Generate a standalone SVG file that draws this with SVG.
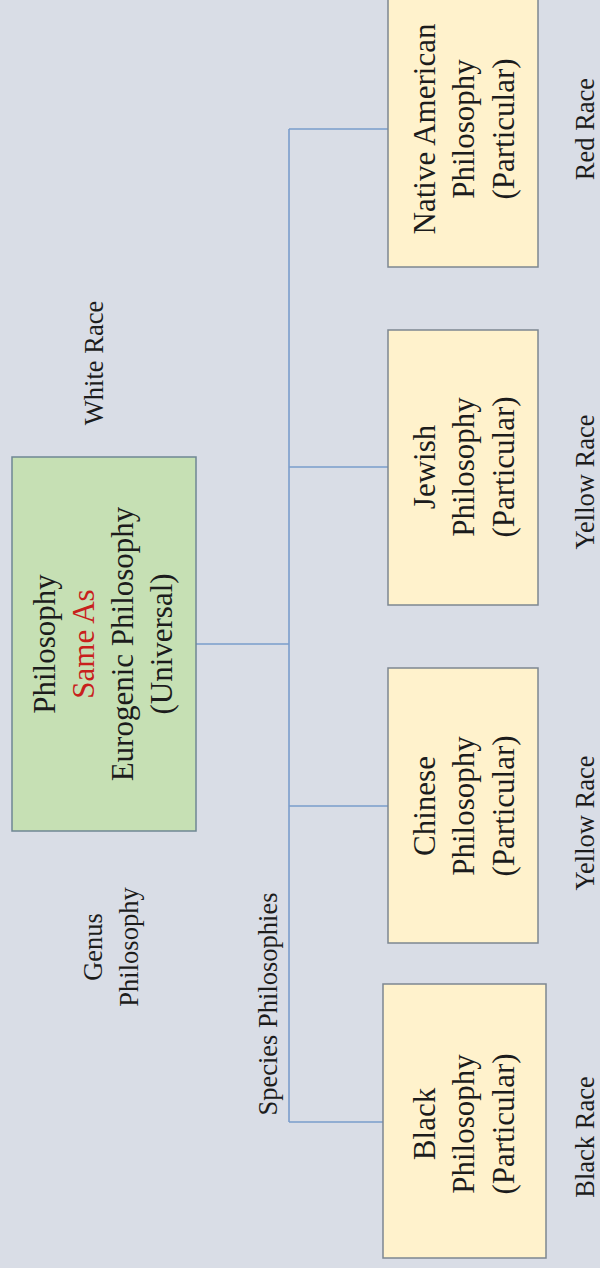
<svg xmlns="http://www.w3.org/2000/svg" width="600" height="1268" viewBox="0 0 600 1268">
<style>
.bg{fill:#d9dde6}
.genus{fill:#c6e0b4;stroke:#6f8794;stroke-width:1.5}
.spec{fill:#fff2cc;stroke:#7d8791;stroke-width:1.5}
.conn{fill:none;stroke:#7a9dcc;stroke-width:1.6}
text{font-family:"Liberation Serif","Times New Roman",serif;fill:#1c1c1c;text-anchor:middle}
.bx{font-size:31px}
.lb{font-size:26.5px}
.red{fill:#c8201c}
</style>
<rect class="bg" x="0" y="0" width="600" height="1268"/>
<g id="connectors">
<path class="conn" d="M196,644 H289 M289,129 V1122 M289,129 H388 M289,467 H388 M289,806 H388 M289,1122 H383"/>
</g>
<g id="genus">
<rect class="genus" x="12" y="457" width="184" height="374"/>
<text class="bx" transform="translate(55,644) rotate(-90)">Philosophy</text>
<text class="bx red" transform="translate(94,644) rotate(-90)">Same As</text>
<text class="bx" transform="translate(133,644) rotate(-90)">Eurogenic Philosophy</text>
<text class="bx" transform="translate(172,644) rotate(-90)">(Universal)</text>
</g>
<g id="native">
<rect class="spec" x="388" y="-8" width="150" height="275"/>
<text class="bx" transform="translate(435,129) rotate(-90)">Native American</text>
<text class="bx" transform="translate(474,129) rotate(-90)">Philosophy</text>
<text class="bx" transform="translate(514,129) rotate(-90)">(Particular)</text>
</g>
<g id="jewish">
<rect class="spec" x="388" y="330" width="150" height="275"/>
<text class="bx" transform="translate(435,467) rotate(-90)">Jewish</text>
<text class="bx" transform="translate(474,467) rotate(-90)">Philosophy</text>
<text class="bx" transform="translate(514,467) rotate(-90)">(Particular)</text>
</g>
<g id="chinese">
<rect class="spec" x="388" y="668" width="150" height="275"/>
<text class="bx" transform="translate(435,806) rotate(-90)">Chinese</text>
<text class="bx" transform="translate(474,806) rotate(-90)">Philosophy</text>
<text class="bx" transform="translate(514,806) rotate(-90)">(Particular)</text>
</g>
<g id="black">
<rect class="spec" x="383" y="984" width="163" height="274"/>
<text class="bx" transform="translate(435,1124) rotate(-90)">Black</text>
<text class="bx" transform="translate(474,1124) rotate(-90)">Philosophy</text>
<text class="bx" transform="translate(514,1124) rotate(-90)">(Particular)</text>
</g>
<g id="labels">
<text class="lb" transform="translate(103,363) rotate(-90)">White Race</text>
<text class="lb" transform="translate(102,947) rotate(-90)">Genus</text>
<text class="lb" transform="translate(138,947) rotate(-90)">Philosophy</text>
<text class="lb" transform="translate(277,1004) rotate(-90)">Species Philosophies</text>
<text class="lb" transform="translate(594,129) rotate(-90)">Red Race</text>
<text class="lb" transform="translate(594,482) rotate(-90)">Yellow Race</text>
<text class="lb" transform="translate(594,823) rotate(-90)">Yellow Race</text>
<text class="lb" transform="translate(594,1137) rotate(-90)">Black Race</text>
</g>
</svg>
